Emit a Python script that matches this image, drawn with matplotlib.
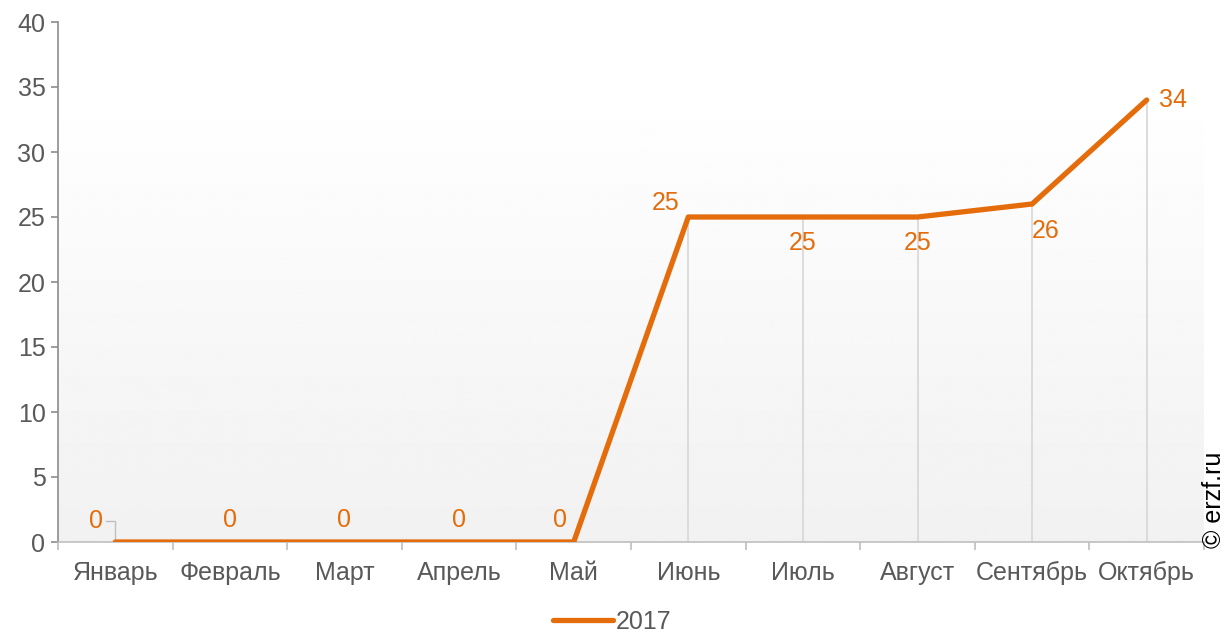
import matplotlib.pyplot as plt
import numpy as np

months = ["Январь", "Февраль", "Март", "Апрель", "Май", "Июнь", "Июль", "Август", "Сентябрь", "Октябрь"]
values_2017 = [0, 0, 0, 0, 0, 25, 25, 25, 26, 34]
series_name = "2017"

orange = '#E46C0A'
grey_text = '#595959'
fs = 18

plt.rcParams['font.family'] = ['Liberation Sans', 'DejaVu Sans']

fig = plt.figure(figsize=(12.26, 6.32), dpi=100)
ax = fig.add_axes([58/1226, 90/632, 1146/1226, 520/632])

x = np.arange(len(months))
ax.set_xlim(-0.5, len(months) - 0.5)
ax.set_ylim(0, 40)

# gradient background (white at top -> light grey at bottom)
grad = np.linspace(0.945, 1.0, 256).reshape(-1, 1)
ax.imshow(grad, extent=(-0.5, len(months) - 0.5, 0, 35), origin='lower',
          aspect='auto', cmap='gray', vmin=0, vmax=1, zorder=0)

# drop lines
ax.vlines(x, 0, values_2017, colors='#d9d9d9', linewidth=1.3, zorder=1)

line, = ax.plot(x, values_2017, color=orange, linewidth=3.8, solid_capstyle='round',
                solid_joinstyle='round', zorder=3, label=series_name)

# data labels
offsets = [(-0.17, 1.6), (0, 1.7), (0, 1.7), (0, 1.7), (-0.12, 1.7),
           (-0.2, 1.1), (0, -2.0), (0, -2.0), (0.12, -2.1), (0.23, 0)]
for xi, v, (dx, dy) in zip(x, values_2017, offsets):
    ax.text(xi + dx, v + dy, str(v), color=orange, fontsize=fs,
            ha='center', va='center', zorder=4)

# leader line for the first label
ax.plot([-0.08, 0.0, 0.0], [1.6, 1.6, 0], color='#bfbfbf', linewidth=1.0, zorder=2)

for s in ['top', 'right']:
    ax.spines[s].set_visible(False)
ax.spines['left'].set_color('#8c8c8c')
ax.spines['left'].set_linewidth(1.2)
ax.spines['bottom'].set_color('#bfbfbf')
ax.spines['bottom'].set_linewidth(1.2)

ax.set_yticks(np.arange(0, 41, 5))
ax.tick_params(axis='y', colors='#8c8c8c', labelcolor=grey_text, labelsize=fs, length=5, width=1.2, pad=4)
ax.set_xticks(x)
ax.set_xticklabels(months)
ax.set_xticks(np.arange(-0.5, len(months), 1), minor=True)
ax.tick_params(axis='x', which='major', length=0, labelcolor=grey_text, labelsize=fs, pad=14)
ax.tick_params(axis='x', which='minor', length=6, color='#bfbfbf', width=1.2)

fig.legend(handles=[line], labels=[series_name], loc='center', bbox_to_anchor=(612/1226, 10/632),
           frameon=False, fontsize=fs, handlelength=2.4, handletextpad=0.1,
           labelcolor=grey_text)

fig.text(1214/1226, (632 - 548)/632, "© erzf.ru", rotation=90, ha='center', va='bottom',
         fontsize=fs, color='black')

fig.savefig('out.png', dpi=100)
